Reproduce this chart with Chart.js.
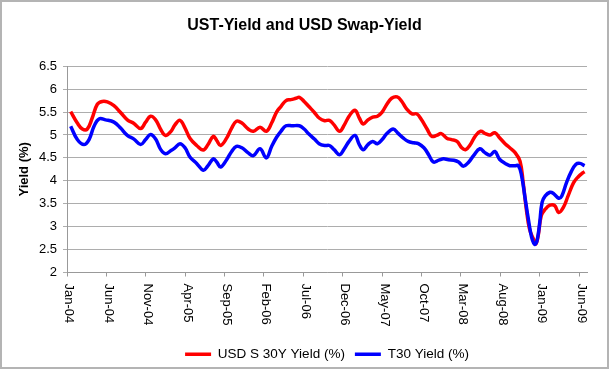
<!DOCTYPE html>
<html>
<head>
<meta charset="utf-8">
<script src="https://cdn.jsdelivr.net/npm/chart.js@4.4.1/dist/chart.umd.min.js"></script>
<style>
  html, body { margin: 0; padding: 0; background: #fff; }
  #wrap { width: 609px; height: 369px; position: relative; }
</style>
</head>
<body>
<div id="wrap"><canvas id="c"></canvas></div>
<script>
// X positions are months since Jan-04
const swapMonths = [0.47,1.31,1.95,2.58,3.2,3.85,4.48,5.12,5.96,6.8,7.66,8.5,9.35,9.98,10.6,11.25,11.9,12.5,13.2,13.7,14.34,14.98,15.6,16.46,17.3,17.9,18.57,19.0,19.5,20.26,20.9,21.5,22.2,23.0,23.65,24.5,25.3,25.97,26.6,27.15,27.8,28.4,29.06,29.5,30.1,30.7,31.4,32.0,32.7,33.3,33.9,34.6,35.2,35.8,36.55,37.1,37.6,38.2,38.8,39.4,40.0,40.6,41.2,41.9,42.5,43.1,43.8,44.4,45.0,45.7,46.3,46.9,47.5,48.2,48.8,49.5,50.1,50.6,51.2,51.8,52.5,53.1,53.7,54.3,54.9,55.6,56.2,56.85,57.5,57.9,58.3,58.7,59.2,59.5,59.8,60.2,60.7,61.3,61.9,62.4,63.0,63.6,64.3,64.9,65.5,65.7];
const swapYield = [5.51,5.26,5.13,5.13,5.37,5.67,5.73,5.72,5.64,5.49,5.33,5.25,5.14,5.28,5.41,5.33,5.12,4.99,5.08,5.22,5.32,5.15,4.93,4.77,4.67,4.79,4.97,4.88,4.77,4.93,5.15,5.30,5.26,5.13,5.08,5.17,5.08,5.26,5.50,5.62,5.75,5.77,5.80,5.82,5.73,5.62,5.49,5.37,5.31,5.32,5.22,5.08,5.22,5.41,5.54,5.37,5.24,5.33,5.39,5.41,5.50,5.67,5.80,5.83,5.73,5.57,5.46,5.46,5.33,5.13,4.97,4.99,5.03,4.93,4.90,4.86,4.72,4.68,4.79,4.97,5.08,5.03,5.00,5.05,4.94,4.81,4.72,4.62,4.43,3.96,3.38,2.95,2.73,2.62,2.80,3.24,3.38,3.47,3.46,3.31,3.42,3.67,3.96,4.09,4.18,4.20];

const t30Months = [0.47,1.31,2.15,2.8,3.43,4.06,4.9,5.96,6.8,7.66,8.5,9.35,9.98,10.6,11.25,11.9,12.5,13.2,13.7,14.34,14.98,15.6,16.46,17.3,17.9,18.57,19.0,19.5,20.26,20.9,21.5,22.2,23.0,23.65,24.5,25.3,25.97,26.6,27.15,27.8,28.6,29.5,30.1,30.7,31.4,32.0,32.7,33.3,33.9,34.6,35.2,35.8,36.55,37.1,37.6,38.2,38.8,39.4,40.0,40.6,41.4,42.0,42.7,43.3,44.0,44.6,45.3,45.9,46.5,47.2,47.8,48.4,49.1,49.7,50.3,51.0,51.6,52.4,53.0,53.7,54.3,54.9,55.6,56.2,56.85,57.3,57.7,58.1,58.55,58.97,59.4,59.7,60.0,60.3,60.7,61.3,61.7,62.4,62.8,63.4,64.0,64.6,65.1,65.7];
const t30Yield = [5.19,4.90,4.79,4.90,5.19,5.35,5.33,5.28,5.15,4.99,4.91,4.79,4.90,5.01,4.91,4.68,4.59,4.66,4.72,4.81,4.72,4.52,4.38,4.23,4.33,4.48,4.41,4.30,4.46,4.64,4.75,4.72,4.61,4.55,4.70,4.50,4.75,4.95,5.08,5.20,5.20,5.20,5.13,5.02,4.91,4.81,4.77,4.77,4.68,4.57,4.70,4.86,4.99,4.79,4.68,4.79,4.86,4.81,4.90,5.03,5.13,5.04,4.93,4.86,4.83,4.81,4.72,4.57,4.41,4.45,4.48,4.46,4.45,4.41,4.32,4.41,4.55,4.70,4.62,4.56,4.64,4.47,4.38,4.33,4.33,4.33,4.11,3.67,3.17,2.77,2.61,2.73,3.09,3.53,3.67,3.75,3.73,3.62,3.67,3.96,4.20,4.36,4.38,4.33];

const tickMonths = [0,5,10,15,20,25,30,35,40,45,50,55,60,65];
const tickLabels = ['Jan-04','Jun-04','Nov-04','Apr-05','Sep-05','Feb-06','Jul-06','Dec-06','May-07','Oct-07','Mar-08','Aug-08','Jan-09','Jun-09'];

const FONT = '"Liberation Sans", Arial, sans-serif';
Chart.defaults.font.family = FONT;
Chart.defaults.color = '#000';

const toPts = (xs, ys) => xs.map((m, i) => ({x: m, y: ys[i]}));

const customDraw = {
  id: 'customDraw',
  afterDraw(chart) {
    const ctx = chart.ctx;
    const xs = chart.scales.x;
    ctx.save();
    ctx.font = '13px ' + FONT;
    ctx.fillStyle = '#000';
    ctx.textAlign = 'left';
    ctx.textBaseline = 'middle';
    tickMonths.forEach((m, i) => {
      const px = xs.getPixelForValue(m);
      ctx.save();
      ctx.translate(px + 2, xs.top + 11);
      ctx.rotate(Math.PI / 2);
      ctx.fillText(tickLabels[i], 0, 0);
      ctx.restore();
    });
    ctx.strokeStyle = '#b4b4b4';
    ctx.lineWidth = 2;
    ctx.strokeRect(1, 1, chart.width - 2, chart.height - 2);
    ctx.restore();
  }
};

new Chart(document.getElementById('c'), {
  type: 'line',
  data: {
    datasets: [
      { label: 'USD S 30Y Yield (%)', data: toPts(swapMonths, swapYield), borderColor: '#ff0000', backgroundColor: '#ff0000', borderWidth: 3.5, pointRadius: 0, tension: 0.4, fill: false, order: 1 },
      { label: 'T30 Yield (%)', data: toPts(t30Months, t30Yield), borderColor: '#0000ff', backgroundColor: '#0000ff', borderWidth: 3.5, pointRadius: 0, tension: 0.4, fill: false, order: 0 }
    ]
  },
  options: {
    responsive: true,
    maintainAspectRatio: false,
    animation: false,
    layout: { padding: { top: 0, left: 0, right: 0, bottom: -2 } },
    plugins: {
      title: {
        display: true,
        text: 'UST-Yield and USD Swap-Yield',
        font: { size: 16, weight: 'bold' },
        color: '#000',
        padding: { top: 16, bottom: 31 }
      },
      legend: {
        position: 'bottom',
        fullSize: false,
        labels: {
          usePointStyle: true,
          pointStyle: 'line',
          pointStyleWidth: 26,
          font: { size: 13.5 },
          color: '#000',
          padding: 10,
          sort: (a, b) => a.datasetIndex - b.datasetIndex
        }
      },
      tooltip: { enabled: false }
    },
    scales: {
      x: {
        type: 'linear',
        min: 0,
        max: 66,
        afterBuildTicks: (s) => { s.ticks = tickMonths.map(v => ({ value: v })); },
        afterFit: (s) => { s.height = 65; },
        ticks: { display: false },
        grid: { display: true, drawOnChartArea: false, drawTicks: true, tickLength: 4, color: '#999' },
        border: { display: true, color: '#999', width: 1 }
      },
      y: {
        min: 2,
        max: 6.5,
        afterFit: (s) => { s.width = 67; },
        ticks: { stepSize: 0.5, font: { size: 13 }, color: '#000', padding: 6,
                 callback: (v) => String(Math.round(v * 10) / 10) },
        grid: { color: '#adadad', tickLength: 4, drawTicks: true },
        border: { display: true, color: '#999', width: 1 },
        title: { display: true, text: 'Yield (%)', font: { size: 13, weight: 'bold' }, color: '#000', padding: { top: 17, bottom: 0 } }
      },
      yr: {
        position: 'right',
        display: true,
        afterFit: (s) => { s.width = 22; },
        ticks: { display: false },
        grid: { display: false },
        border: { display: false }
      }
    }
  },
  plugins: [customDraw]
});
</script>
</body>
</html>
